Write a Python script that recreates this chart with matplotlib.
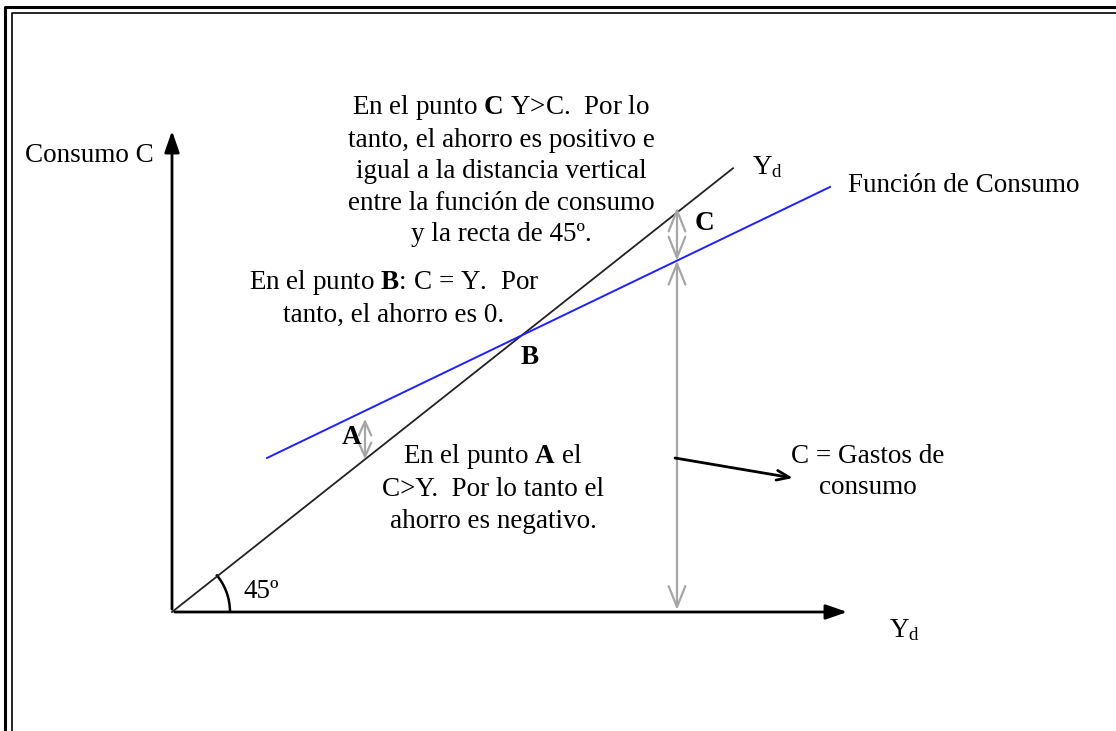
import matplotlib
matplotlib.use("Agg")
import matplotlib.pyplot as plt
from matplotlib.patches import Arc
import numpy as np

# Datos del diagrama (unidades de dibujo, origen en el vértice de los ejes)
eje_x_max = 678          # largo del eje Yd
eje_y_max = 484          # largo del eje Consumo
recta45_x = np.array([0, 561])
pendiente45 = 0.791      # la "recta de 45º" tal como está dibujada
consumo_x = np.array([95, 658])
consumo_y = np.array([154, 425])
ingreso_A = 193          # Yd del punto A
ingreso_C = 505          # Yd del punto C

recta45_y = pendiente45 * recta45_x
b = (consumo_y[1] - consumo_y[0]) / (consumo_x[1] - consumo_x[0])
a = consumo_y[0] - b * consumo_x[0]


def consumo(yd):
    return a + b * yd


gris = '#a6a6a6'
azul = '#1f1fff'

plt.rcParams['font.family'] = ['Liberation Serif', 'DejaVu Serif']
plt.rcParams['mathtext.fontset'] = 'custom'
plt.rcParams['mathtext.rm'] = 'Liberation Serif'
plt.rcParams['mathtext.it'] = 'Liberation Serif:italic'
plt.rcParams['mathtext.bf'] = 'Liberation Serif:bold'

fig = plt.figure(figsize=(11.16, 7.31), dpi=100)
ax = fig.add_axes([0, 0, 1, 1])
ax.set_xlim(-172, 944)
ax.set_ylim(-119, 612)
ax.axis('off')

# marco doble
ax.plot([-167, -167, 960], [-130, 605, 605], color='black', lw=2.2)
ax.plot([-160, -160, 960], [-130, 599, 599], color='black', lw=1.2)

# ejes
ax.annotate('', xy=(eje_x_max, 0), xytext=(0, 0),
            arrowprops=dict(arrowstyle='-|>,head_length=1.3,head_width=0.45',
                            color='black', lw=2))
ax.annotate('', xy=(0, eje_y_max), xytext=(0, 0),
            arrowprops=dict(arrowstyle='-|>,head_length=1.3,head_width=0.45',
                            color='black', lw=2))

# recta de 45º y función de consumo
ax.plot(recta45_x, recta45_y, color='#222222', lw=1.3)
ax.plot(consumo_x, consumo_y, color=azul, lw=1.4)

# ángulo de 45º
ang = np.degrees(np.arctan(pendiente45))
ax.add_patch(Arc((0, 0), 116, 116, theta1=0, theta2=ang + 2, color='black', lw=1.8))

# flechas grises
flecha = dict(arrowstyle='<->,head_length=1.5,head_width=0.6', color=gris, lw=1.6,
              shrinkA=0, shrinkB=0)
ax.annotate('', xy=(ingreso_C, pendiente45 * ingreso_C + 5), xytext=(ingreso_C, consumo(ingreso_C)),
            arrowprops=flecha)
ax.annotate('', xy=(ingreso_C, consumo(ingreso_C)), xytext=(ingreso_C, 2),
            arrowprops=flecha)
flecha_a = dict(arrowstyle='<->,head_length=1.0,head_width=0.45', color=gris, lw=1.6,
                shrinkA=0, shrinkB=0)
ax.annotate('', xy=(ingreso_A, consumo(ingreso_A) - 8), xytext=(ingreso_A, pendiente45 * ingreso_A),
            arrowprops=flecha_a)

# flecha hacia "C = Gastos de consumo"
ax.annotate('', xy=(621, 134), xytext=(503, 154),
            arrowprops=dict(arrowstyle='->,head_length=0.9,head_width=0.35',
                            color='black', lw=2, shrinkA=0, shrinkB=0))

fs = 19.5
ls = 1.34
ax.text(-147, 457, 'Consumo C', fontsize=fs, va='center', ha='left')
ax.text(676, 426, 'Función de Consumo', fontsize=fs, va='center', ha='left')
ax.text(580, 445, r'Y$_{\mathrm{d}}$', fontsize=fs, va='center', ha='left')
ax.text(717, -18, r'Y$_{\mathrm{d}}$', fontsize=fs, va='center', ha='left')
ax.text(71, 21, '45º', fontsize=fs, va='center', ha='left')

ax.text(180, 175, 'A', fontsize=fs, fontweight='bold', va='center', ha='center')
ax.text(358, 254, 'B', fontsize=fs, fontweight='bold', va='center', ha='center')
ax.text(532, 389, 'C', fontsize=fs, fontweight='bold', va='center', ha='center')

ax.text(329, 442,
        'En el punto $\\mathbf{C}$ Y>C.  Por lo\n'
        'tanto, el ahorro es positivo e\n'
        'igual a la distancia vertical\n'
        'entre la función de consumo\n'
        'y la recta de 45º.',
        fontsize=fs, va='center', ha='center', multialignment='center',
        linespacing=ls)
ax.text(222, 314,
        'En el punto $\\mathbf{B}$: C = Y.  Por\n'
        'tanto, el ahorro es 0.',
        fontsize=fs, va='center', ha='center', multialignment='center',
        linespacing=ls)
ax.text(321, 124,
        'En el punto $\\mathbf{A}$ el\n'
        'C>Y.  Por lo tanto el\n'
        'ahorro es negativo.',
        fontsize=fs, va='center', ha='center', multialignment='center',
        linespacing=ls)
ax.text(696, 140,
        'C = Gastos de\nconsumo',
        fontsize=fs, va='center', ha='center', multialignment='center',
        linespacing=ls)

plt.savefig('out.png', dpi=100)
